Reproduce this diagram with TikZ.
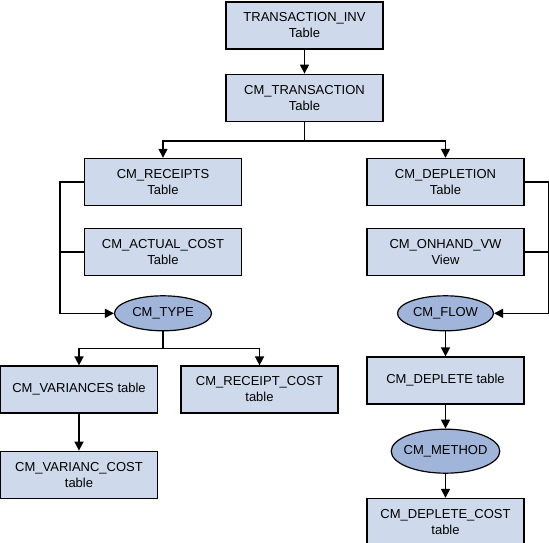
\documentclass[tikz,border=0pt]{standalone}
\usepackage{fontspec}
\setmainfont{Liberation Sans}
\usepackage{tikz}
\usetikzlibrary{shapes,arrows.meta}
\usetikzlibrary{positioning}
\definecolor{tblblue}{RGB}{206,218,236}
\definecolor{fldblue}{RGB}{161,181,219}

\begin{document}
\begin{tikzpicture}
          [every node/.style={draw, line width=1.2pt, font=\fontsize{13}{16}\selectfont, align=center},
           tbl/.style={rectangle, fill=tblblue, minimum width=157pt, minimum height=47pt},
           fld/.style={ellipse, fill=fldblue, inner sep=0pt, minimum width=97pt, minimum height=35pt},
           link/.style={line width=1.5pt, -{Triangle[length=9pt,width=9pt]}}]
          \useasboundingbox (0,0) rectangle (549pt,-543pt);

          \node (tinv) [tbl] at (304.5pt,-25.5pt) {TRANSACTION\_INV\\Table};
          \node (ctrans) [tbl, below = 24pt of tinv] {CM\_TRANSACTION\\Table};

          \node (rec) [tbl, below = 36pt of ctrans, xshift=-141.5pt] {CM\_RECEIPTS\\Table};
          \node (act) [tbl, below = 22pt of rec] {CM\_ACTUAL\_COST\\Table};
          \node (type) [fld, below = 19pt of act] {CM\_TYPE};

          \node (dep) [tbl, below = 36pt of ctrans, xshift=141pt] {CM\_DEPLETION\\Table};
          \node (onh) [tbl, below = 22pt of dep] {CM\_ONHAND\_VW\\View};
          \node (flow) [fld, below = 19pt of onh, minimum width=96pt] {CM\_FLOW};

          \node (var) [tbl, below = 34pt of type, xshift=-84pt] {CM\_VARIANCES table};
          \node (rcost) [tbl, below = 34pt of type, xshift=96.5pt] {CM\_RECEIPT\_COST\\table};
          \node (vcost) [tbl, below = 37pt of var] {CM\_VARIANC\_COST\\table};

          \node (depl) [tbl, below = 25pt of flow] {CM\_DEPLETE table};
          \node (meth) [fld, below = 24pt of depl, inner xsep=-3.5pt, minimum height=44pt] {CM\_METHOD};
          \node (dcost) [tbl, below = 24pt of meth] {CM\_DEPLETE\_COST\\table};


          \draw[link] (tinv) -- (ctrans);
          \draw[link] (ctrans.south) -- ++(0,-19pt) -| (rec.north);
          \draw[link] (ctrans.south) -- ++(0,-19pt) -| (dep.north);

          \draw[link] (rec.west) -- ++(-24pt,0) |- (type.west);
          \draw[line width=1.5pt] (act.west) -- ++(-24pt,0);
          \draw[link] (dep.east) -- ++(24pt,0) |- (flow.east);
          \draw[line width=1.5pt] (onh.east) -- ++(24pt,0);

          \draw[link] (type.south) -- ++(0,-17pt) -| (var.north);
          \draw[link] (type.south) -- ++(0,-17pt) -| (rcost.north);
          \draw[link] (var) -- (vcost);

          \draw[link] (flow) -- (depl);
          \draw[link] (depl) -- (meth);
          \draw[link] (meth) -- (dcost);

        \end{tikzpicture}
\end{document}
